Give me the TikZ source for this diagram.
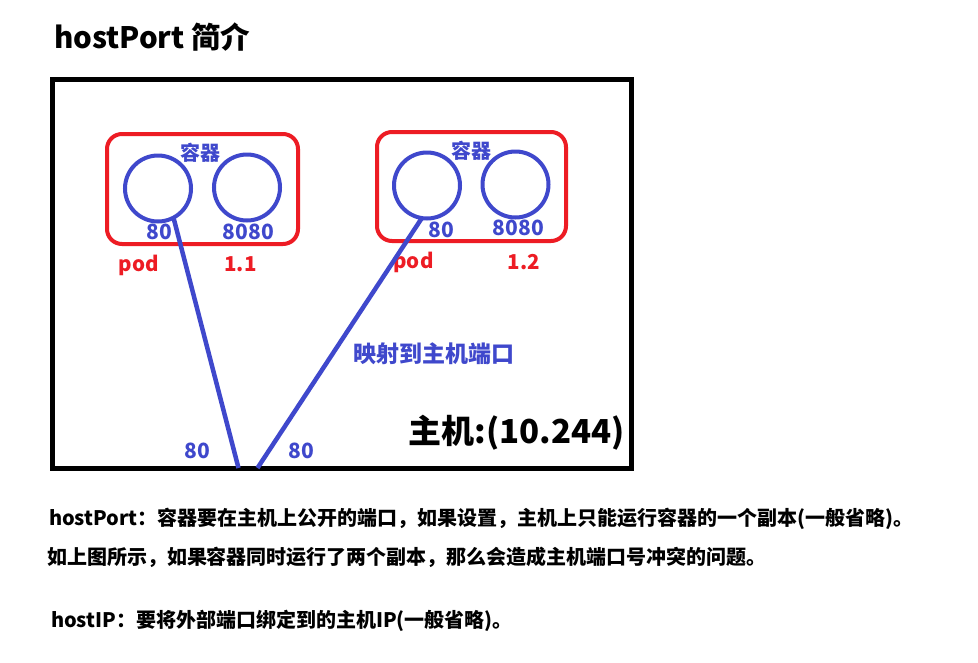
\documentclass[tikz,border=0pt]{standalone}
\usepackage{fontspec}
\setmainfont{Noto Sans CJK SC}
\definecolor{pblue}{HTML}{3F48CC}
\definecolor{pred}{HTML}{ED1C24}
\tikzset{
  every node/.style={inner sep=0pt, outer sep=0pt, font=\bfseries},
  hostbox/.style={draw=black, line width=5pt, minimum width=578.5pt, minimum height=389.5pt},
  podbox/.style={draw=pred, line width=4pt, rounded corners=15pt},
  ctr/.style={draw=pblue, line width=4pt, circle, minimum size=66pt},
  bluetxt/.style={text=pblue, font=\fontsize{#1}{#1}\selectfont\bfseries},
  redtxt/.style={text=pred, font=\fontsize{20.5}{20.5}\selectfont\bfseries},
  txt/.style={text=black, anchor=west, font=\fontsize{20}{20}\selectfont\bfseries},
  link/.style={draw=pblue, line width=4.5pt}
}
\begin{document}
\begin{tikzpicture}[x=1pt, y=-1pt]
\useasboundingbox[fill=white] (0,0) rectangle (978,662);

\node[anchor=west, font=\fontsize{29.5}{29.5}\selectfont\bfseries] (title) at (54,37) {hostPort 简介};

\node[hostbox] (host) at (341.75,273.75) {};

% pod 1
\node[podbox, minimum width=191pt, minimum height=110pt] (p1) at (202.5,189) {};
\node[ctr] (c1) at (158,188.5) {};
\node[ctr] (c2) at (247,187.5) {};
\node[bluetxt=20] (k1) at (200,153) {容器};
\node[bluetxt=21] (n1) at (159,232) {80};
\node[bluetxt=21] (m1) at (248.5,232) {8080};
\node[redtxt] (pod1) at (139,265) {pod};
\node[redtxt] (ip1) at (240.5,264) {1.1};

% pod 2
\node[podbox, minimum width=189pt, minimum height=109pt] (p2) at (471.5,186.5) {};
\node[ctr] (c3) at (427,185.5) {};
\node[ctr] (c4) at (515.5,184.5) {};
\node[bluetxt=20] (k2) at (471.5,150.5) {容器};
\node[bluetxt=21] (n2) at (441.5,229.5) {80};
\node[bluetxt=21] (m2) at (518.5,227.5) {8080};
\node[redtxt] (pod2) at (413.5,262) {pod};
\node[redtxt] (ip2) at (524,262) {1.2};

% mapping lines
\coordinate (e1) at (238.5,468);
\coordinate (e2) at (257.5,468);
\draw[link] (c1.-62) -- (e1);
\draw[link] (c3.-99) -- (e2);

\node[bluetxt=23] (map) at (434,354) {映射到主机端口};
\node[bluetxt=21] (h1) at (197.5,450.5) {80};
\node[bluetxt=21] (h2) at (301,450.5) {80};
\node[font=\fontsize{33}{33}\selectfont\bfseries] (hostlbl) at (517,433) {主机:(10.244)};

% description
\node[txt] (d1) at (49,519) {hostPort：容器要在主机上公开的端口，如果设置，主机上只能运行容器的一个副本(一般省略)。};
\node[txt] (d2) at (47,557) {如上图所示，如果容器同时运行了两个副本，那么会造成主机端口号冲突的问题。};
\node[txt] (d3) at (51,621) {hostIP：要将外部端口绑定到的主机IP(一般省略)。};
\end{tikzpicture}
\end{document}
